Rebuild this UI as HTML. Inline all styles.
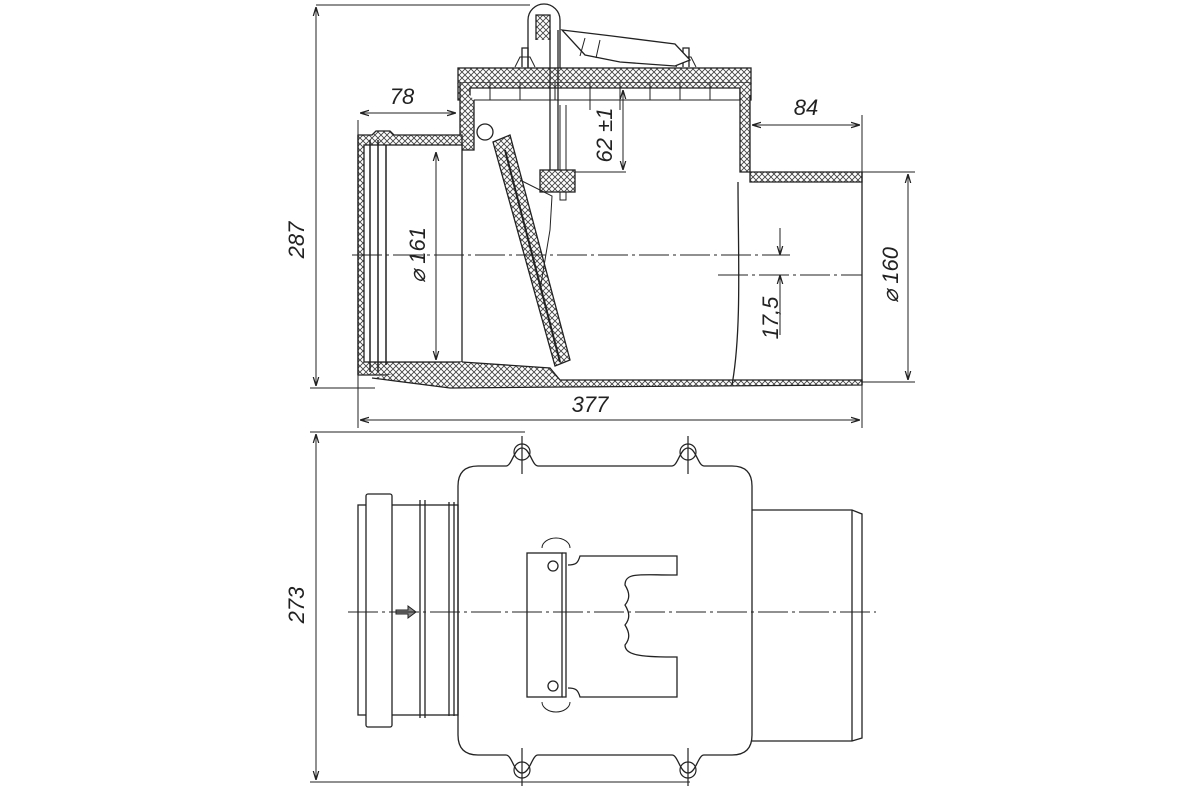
<!DOCTYPE html>
<html><head><meta charset="utf-8"><style>
html,body{margin:0;padding:0;background:#fff}
svg{display:block}
text{font-family:"Liberation Sans",sans-serif;font-style:italic;font-size:22px;fill:#222}
</style></head><body>
<svg width="1200" height="800" viewBox="0 0 1200 800" xmlns="http://www.w3.org/2000/svg">
<defs>
<pattern id="h" width="6" height="6" patternUnits="userSpaceOnUse">
<rect width="6" height="6" fill="#fff"/>
<path d="M0 0L6 6M6 0L0 6" stroke="#444" stroke-width="0.9"/>
</pattern>
<marker id="a" viewBox="0 0 10 10" refX="10" refY="5" markerWidth="9" markerHeight="9" orient="auto-start-reverse"><path d="M0 2L10 5L0 8" fill="none" stroke="#222" stroke-width="1.4"/></marker>
</defs>
<g stroke="#222" stroke-width="1.3" fill="none">
<!-- ===== TOP VIEW ===== -->
<line x1="316" y1="5" x2="530" y2="5" stroke-width="1"/>
<line x1="310" y1="388" x2="375" y2="388" stroke-width="1"/>
<line x1="316" y1="7" x2="316" y2="386" stroke-width="1" marker-start="url(#a)" marker-end="url(#a)"/>
<!-- lid -->
<rect x="458" y="68" width="293" height="15" fill="url(#h)"/>
<path d="M458 83V100H470V88H740V100H751V83" fill="url(#h)"/>
<path d="M490 83V100M520 83V100M555 83V100M590 83V110M620 83V110M650 83V100M680 83V100M710 83V100" stroke-width="1"/>
<line x1="470" y1="100" x2="740" y2="100" stroke-width="1"/>
<path d="M522 67V48h6v19M683 67V48h6v19" />
<path d="M515 67l5-10h10l5 10M676 67l5-10h10l5 10" stroke-width="1"/>
<path d="M528 68V20a16 16 0 0 1 32 0v48" />
<path d="M536 40V15h14v25" fill="url(#h)"/>
<path d="M550 30V172M558 30V172" />
<path d="M560 105V200h6V105" stroke-width="1"/>
<rect x="540" y="170" width="35" height="22" fill="url(#h)"/>
<path d="M562 30L612 36 675 44 690 60 675 66 620 62 585 55z" fill="#fff"/>
<path d="M585 38L580 56M600 40L596 58" stroke-width="1"/>
<!-- left body wall -->
<path d="M460 83V150H474V100" fill="url(#h)"/>
<!-- socket -->
<path d="M358 135H372l4-4h14l4 4H462V150H376V362H462V375H372L358 375Z" fill="url(#h)"/>
<rect x="364" y="145" width="98" height="217" fill="#fff"/>
<path d="M358 135V375" />
<path d="M370 140V372M378 140V372M386 145V365" stroke-width="1.5"/>
<path d="M462 150V362" stroke-width="1"/>
<!-- bottom of body -->
<path d="M462 362L550 368 560 380 862 380 862 385 560 387 450 388 372 378" fill="url(#h)"/>
<!-- flap -->
<path d="M493 142L510 135 570 360 555 366Z" fill="url(#h)"/>
<path d="M505 150L560 362" stroke-width="2"/>
<circle cx="485" cy="132" r="8"/>
<path d="M520 180L552 196 550 230 540 290" stroke-width="1"/>
<!-- right wall & outlet -->
<path d="M740 88V172H862V182H750V95" fill="url(#h)"/>
<path d="M862 172V385" />
<path d="M738 182C738 250 742 330 732 385" />
<line x1="352" y1="255" x2="790" y2="255" stroke-width="0.9" stroke-dasharray="30 4 3 4"/>
<line x1="718" y1="275" x2="862" y2="275" stroke-width="0.9" stroke-dasharray="30 4 3 4"/>
<line x1="358" y1="120" x2="358" y2="428" stroke-width="1"/>
<line x1="862" y1="115" x2="862" y2="428" stroke-width="1"/>
<line x1="360" y1="113" x2="456" y2="113" stroke-width="1" marker-start="url(#a)" marker-end="url(#a)"/>
<line x1="752" y1="125" x2="860" y2="125" stroke-width="1" marker-start="url(#a)" marker-end="url(#a)"/>
<line x1="436" y1="152" x2="436" y2="360" stroke-width="1" marker-start="url(#a)" marker-end="url(#a)"/>
<line x1="862" y1="172" x2="915" y2="172" stroke-width="1"/>
<line x1="862" y1="382" x2="915" y2="382" stroke-width="1"/>
<line x1="908" y1="174" x2="908" y2="380" stroke-width="1" marker-start="url(#a)" marker-end="url(#a)"/>
<line x1="623" y1="90" x2="623" y2="170" stroke-width="1" marker-start="url(#a)" marker-end="url(#a)"/>
<line x1="575" y1="172" x2="626" y2="172" stroke-width="1"/>
<line x1="780" y1="228" x2="780" y2="255" stroke-width="1" marker-end="url(#a)"/>
<line x1="780" y1="335" x2="780" y2="275" stroke-width="1" marker-end="url(#a)"/>
<line x1="360" y1="420" x2="860" y2="420" stroke-width="1" marker-start="url(#a)" marker-end="url(#a)"/>

<!-- ===== BOTTOM VIEW ===== -->
<line x1="310" y1="432" x2="525" y2="432" stroke-width="1"/>
<line x1="310" y1="782" x2="690" y2="782" stroke-width="1"/>
<line x1="316" y1="434" x2="316" y2="780" stroke-width="1" marker-start="url(#a)" marker-end="url(#a)"/>
<path d="M478 466H506c6 0 8-18 16-18s10 18 16 18H672c6 0 8-18 16-18s10 18 16 18H732q20 0 20 20V735q0 20-20 20H704c-6 0-8 18-16 18s-10-18-16-18H538c-6 0-8 18-16 18s-10-18-16-18H478q-20 0-20-20V486q0-20 20-20z"/>
<g stroke-width="1.2">
<circle cx="522" cy="452" r="8"/><circle cx="688" cy="452" r="8"/>
<circle cx="522" cy="770" r="8"/><circle cx="688" cy="770" r="8"/>
<path d="M522 436V474M688 436V474M522 748V786M688 748V786"/>
</g>
<rect x="358" y="505" width="100" height="210"/>
<rect x="366" y="494" width="26" height="233" rx="2" fill="#fff"/>
<path d="M420 500V718M425 500V718M449 502V716M454 502V716"/>
<path d="M396 610h12v-4l8 6-8 6v-4h-12z" fill="#888" stroke-width="1"/>
<path d="M752 510H852l10 4V738l-10 3H752M852 510V741"/>
<rect x="527" y="553" width="35" height="144"/>
<path d="M562 553H566V697H562"/>
<circle cx="553" cy="566" r="5"/><circle cx="553" cy="686" r="5"/>
<path d="M542 548a14 10 0 0 1 28 0M542 702a14 10 0 0 0 28 0" stroke-width="1"/>
<path d="M568 565c8 0 10-2 12-9H677V575H672V575C640 575 625 572 625 585c5 8 5 14 0 20 5 8 5 14 0 20 5 8 5 14 0 20 0 10 15 12 47 12H677V697H580c-2-7-4-9-12-9"/>
<line x1="348" y1="612" x2="876" y2="612" stroke-width="0.9" stroke-dasharray="30 4 3 4"/>
</g>
<text x="304" y="240" transform="rotate(-90 304 240)" text-anchor="middle">287</text>
<text x="304" y="605" transform="rotate(-90 304 605)" text-anchor="middle">273</text>
<text x="402" y="104" text-anchor="middle">78</text>
<text x="806" y="115" text-anchor="middle">84</text>
<text x="590" y="412" text-anchor="middle">377</text>
<text x="425" y="255" transform="rotate(-90 425 255)" text-anchor="middle">⌀ 161</text>
<text x="898" y="275" transform="rotate(-90 898 275)" text-anchor="middle">⌀ 160</text>
<text x="612" y="135" transform="rotate(-90 612 135)" text-anchor="middle">62 ±1</text>
<text x="778" y="318" transform="rotate(-90 778 318)" text-anchor="middle">17,5</text>
</svg>
</body></html>
